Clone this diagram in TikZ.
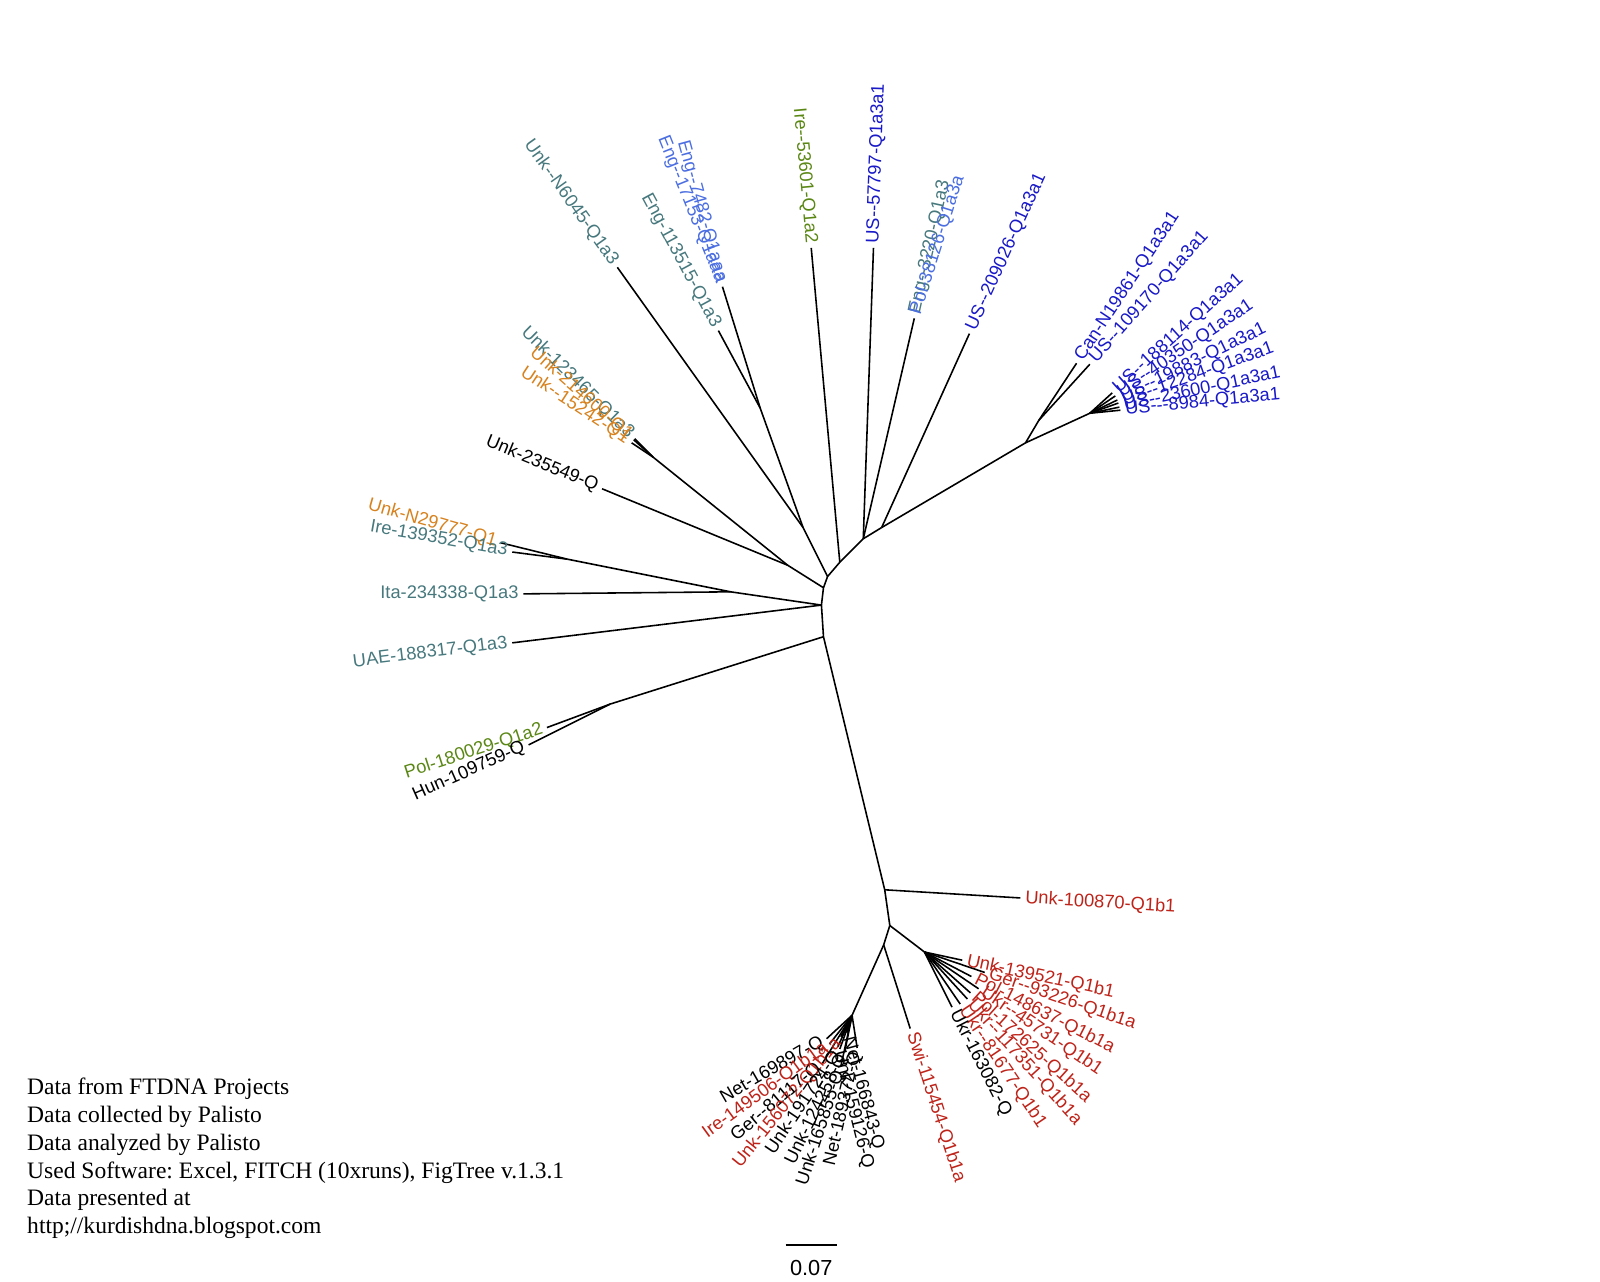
\documentclass[tikz,border=0pt]{standalone}
\usepackage{fontspec}
\setmainfont{Liberation Sans}
\newfontfamily\tipfont{Liberation Sans}
\newfontfamily\notefont{Liberation Serif}

\definecolor{qteal}{RGB}{70,120,125}
\definecolor{qorange}{RGB}{215,130,30}
\definecolor{qgreen}{RGB}{90,135,20}
\definecolor{qnavy}{RGB}{25,25,200}
\definecolor{qsky}{RGB}{75,110,225}
\definecolor{qred}{RGB}{190,35,25}

\begin{document}
\begin{tikzpicture}[%
      x=0.010204cm, y=-0.010204cm,
      branch/.style={%
        draw       = black,
        line width = 0.45pt,
      },
      tiplabel/.style={%
        font       = \tipfont\fontsize{5.2}{6}\selectfont,
        inner sep  = 1.2pt,
      },
      rlab/.style={tiplabel, anchor=west, rotate=#1},
      llab/.style={tiplabel, anchor=east, rotate=#1},
      ]

      \useasboundingbox (0,0) rectangle (1568,1256);

      % inner nodes of the tree
      \coordinate (S0) at (807,624);
      \coordinate (S1) at (805,593);
      \coordinate (S2) at (807,576);
      \coordinate (S3) at (811,565);
      \coordinate (A) at (823,551);
      \coordinate (B) at (846,528);
      \coordinate (C) at (864,517);
      \coordinate (D) at (1005,434);
      \coordinate (D2) at (1018,412);
      \coordinate (E) at (1068,405);
      \coordinate (F) at (787,517);
      \coordinate (EngN) at (745,400);
      \coordinate (G) at (772,554);
      \coordinate (N123) at (640,448);
      \coordinate (I) at (556,548);
      \coordinate (H) at (716,580);
      \coordinate (P) at (598,690);
      \coordinate (Q1) at (867,872);
      \coordinate (Q2) at (872,907);
      \coordinate (R) at (906,933);
      \coordinate (T) at (866,926);
      \coordinate (T2) at (835,995);

      \draw[branch] (C) -- (B) -- (A) -- (S3) -- (S2) -- (S1) -- (S0) -- (Q1) -- (Q2);
      \draw[branch] (C) -- (D) -- (D2);
      \draw[branch] (D) -- (E);
      \draw[branch] (S3) -- (F) -- (EngN);
      \draw[branch] (S2) -- (G) -- (N123);
      \draw[branch] (S1) -- (H) -- (I);
      \draw[branch] (S0) -- (P);
      \draw[branch] (Q2) -- (R);
      \draw[branch] (Q2) -- (T) -- (T2);

      % upper half
      \coordinate (tN6045) at (605,262);
      \coordinate (t113515) at (704,324);
      \coordinate (tEngA) at (708,281);
      \coordinate (t53601) at (795,243);
      \coordinate (t57797) at (856,243);
      \coordinate (t3220) at (896,312);
      \coordinate (t209026) at (950,327);
      \coordinate (tN19861) at (1055,356);
      \coordinate (t109170) at (1068,357);
      \coordinate (t188114) at (1090,385);
      \coordinate (t40350) at (1093,388);
      \coordinate (t19883) at (1095,392);
      \coordinate (t12284) at (1096,395);
      \coordinate (t23600) at (1097,399);
      \coordinate (t8984) at (1098,402);

      \draw[branch] (F) -- (tN6045);
      \draw[branch] (EngN) -- (t113515);
      \draw[branch] (EngN) -- (tEngA);
      \draw[branch] (A) -- (t53601);
      \draw[branch] (B) -- (t57797);
      \draw[branch] (B) -- (t3220);
      \draw[branch] (C) -- (t209026);
      \draw[branch] (D2) -- (tN19861);
      \draw[branch] (D2) -- (t109170);
      \draw[branch] (E) -- (t188114);
      \draw[branch] (E) -- (t40350);
      \draw[branch] (E) -- (t19883);
      \draw[branch] (E) -- (t12284);
      \draw[branch] (E) -- (t23600);
      \draw[branch] (E) -- (t8984);

      \node[llab=-54.5, text=qteal] (lN6045) at (tN6045) {Unk--N6045-Q1a3};
      \node[llab=-61.7, text=qteal] (l113515) at (t113515) {Eng-113515-Q1a3};
      \node[llab=-74.6, text=qsky] (l7482) at (tEngA) {Eng--7482-Q1aaa};
      \node[llab=-68.1, text=qsky] (l17153) at (tEngA) {Eng--17153-Q1aaa};
      \node[llab=-84.8, text=qgreen] (l53601) at (t53601) {Ire--53601-Q1a2};
      \node[rlab=88, text=qnavy] (l57797) at (t57797) {US--57797-Q1a3a1};
      \node[rlab=77.5, text=qteal] (l3220) at (t3220) {Eng--3220-Q1a3};
      \node[rlab=72.5, text=qsky] (l38126) at (t3220) {Pol-38126-Q1a3a};
      \node[rlab=65.6, text=qnavy] (l209026) at (t209026) {US--209026-Q1a3a1};
      \node[rlab=56.5, text=qnavy] (lN19861) at (tN19861) {Can-N19861-Q1a3a1};
      \node[rlab=48.5, text=qnavy] (l109170) at (t109170) {US--109170-Q1a3a1};
      \node[rlab=42, text=qnavy] (l188114) at (t188114) {US--188114-Q1a3a1};
      \node[rlab=34, text=qnavy] (l40350) at (t40350) {US--40350-Q1a3a1};
      \node[rlab=26, text=qnavy] (l19883) at (t19883) {US--19883-Q1a3a1};
      \node[rlab=19.6, text=qnavy] (l12284) at (t12284) {US--12284-Q1a3a1};
      \node[rlab=12, text=qnavy] (l23600) at (t23600) {US--23600-Q1a3a1};
      \node[rlab=5.5, text=qnavy] (l8984) at (t8984) {US---8984-Q1a3a1};

      % left side
      \coordinate (t123465) at (622,430);
      \coordinate (t214600) at (621,431);
      \coordinate (t15242) at (619,434);
      \coordinate (t235549) at (590,479);
      \coordinate (tN29777) at (491,532);
      \coordinate (t139352) at (502,541);
      \coordinate (t234338) at (513,582);
      \coordinate (t188317) at (502,630);
      \coordinate (t180029) at (536,713);
      \coordinate (t109759) at (518,730);

      \draw[branch] (N123) -- (t123465);
      \draw[branch] (N123) -- (t214600);
      \draw[branch] (N123) -- (t15242);
      \draw[branch] (G) -- (t235549);
      \draw[branch] (I) -- (tN29777);
      \draw[branch] (I) -- (t139352);
      \draw[branch] (H) -- (t234338);
      \draw[branch] (S1) -- (t188317);
      \draw[branch] (P) -- (t180029);
      \draw[branch] (P) -- (t109759);

      \node[llab=-44.5, text=qteal] (l123465) at (t123465) {Unk-123465-Q1a3};
      \node[llab=-41.3, text=qorange] (l214600) at (t214600) {Unk-214600-Q1};
      \node[llab=-33.3, text=qorange] (l15242) at (t15242) {Unk--15242-Q1};
      \node[llab=-22.4] (l235549) at (t235549) {Unk-235549-Q};
      \node[llab=-16, text=qorange] (lN29777) at (tN29777) {Unk-N29777-Q1};
      \node[llab=-10, text=qteal] (l139352) at (t139352) {Ire-139352-Q1a3};
      \node[llab=0, text=qteal] (l234338) at (t234338) {Ita-234338-Q1a3};
      \node[llab=7, text=qteal] (l188317) at (t188317) {UAE-188317-Q1a3};
      \node[llab=18, text=qgreen] (l180029) at (t180029) {Pol-180029-Q1a2};
      \node[llab=24] (l109759) at (t109759) {Hun-109759-Q};

      % lower half
      \coordinate (t100870) at (1000,880);
      \coordinate (t139521) at (943,941);
      \coordinate (t93226) at (965,953);
      \coordinate (t148637) at (952,957);
      \coordinate (t45731) at (959,969);
      \coordinate (t172625) at (951,973);
      \coordinate (t117351) at (948,979);
      \coordinate (t81677) at (941,984);
      \coordinate (t163082) at (933,987);
      \coordinate (t115454) at (892,1008);
      \coordinate (t169897) at (810,1018);
      \coordinate (t149506) at (813,1023);
      \coordinate (t81117) at (806,1042);
      \coordinate (t156072) at (824,1016);
      \coordinate (t191724) at (823,1028);
      \coordinate (t124258) at (828,1030);
      \coordinate (t165855) at (824,1045);
      \coordinate (t189372) at (840,1027);
      \coordinate (t159126) at (821,1026);
      \coordinate (t166843) at (830,1012);

      \draw[branch] (Q1) -- (t100870);
      \draw[branch] (R) -- (t139521);
      \draw[branch] (R) -- (t93226);
      \draw[branch] (R) -- (t148637);
      \draw[branch] (R) -- (t45731);
      \draw[branch] (R) -- (t172625);
      \draw[branch] (R) -- (t117351);
      \draw[branch] (R) -- (t81677);
      \draw[branch] (R) -- (t163082);
      \draw[branch] (T) -- (t115454);
      \draw[branch] (T2) -- (t169897);
      \draw[branch] (T2) -- (t149506);
      \draw[branch] (T2) -- (t81117);
      \draw[branch] (T2) -- (t156072);
      \draw[branch] (T2) -- (t191724);
      \draw[branch] (T2) -- (t124258);
      \draw[branch] (T2) -- (t165855);
      \draw[branch] (T2) -- (t189372);
      \draw[branch] (T2) -- (t159126);
      \draw[branch] (T2) -- (t166843);

      \node[rlab=-3.5, text=qred] (l100870) at (t100870) {Unk-100870-Q1b1};
      \node[rlab=-12, text=qred] (l139521) at (t139521) {Unk-139521-Q1b1};
      \node[rlab=-19, text=qred] (l93226) at (t93226) {Ger--93226-Q1b1a};
      \node[rlab=-27, text=qred] (l148637) at (t148637) {Pol-148637-Q1b1a};
      \node[rlab=-34, text=qred] (l45731) at (t45731) {Ukr--45731-Q1b1};
      \node[rlab=-42, text=qred] (l172625) at (t172625) {Pol-172625-Q1b1a};
      \node[rlab=-48, text=qred] (l117351) at (t117351) {Ukr--117351-Q1b1a};
      \node[rlab=-56, text=qred] (l81677) at (t81677) {Ukr--81677-Q1b1};
      \node[rlab=-63] (l163082) at (t163082) {Ukr-163082-Q};
      \node[rlab=-72, text=qred] (l115454) at (t115454) {Swi-115454-Q1b1a};
      \node[llab=30] (l169897) at (t169897) {Net-169897-Q};
      \node[llab=36, text=qred] (l149506) at (t149506) {Ire-149506-Q1b1a};
      \node[llab=40] (l81117) at (t81117) {Ger--81117-Q};
      \node[llab=51, text=qred] (l156072) at (t156072) {Unk-156072-Q1b1a};
      \node[llab=56] (l191724) at (t191724) {Unk-191724-Q};
      \node[llab=64] (l124258) at (t124258) {Unk-124258-Q};
      \node[llab=72] (l165855) at (t165855) {Unk-165855-Q};
      \node[llab=77] (l189372) at (t189372) {Net-189372-Q};
      \node[rlab=-76] (l159126) at (t159126) {Unk-159126-Q};
      \node[rlab=-75] (l166843) at (t166843) {Net-166843-Q};

      % scale bar
      \coordinate (sbL) at (770,1220);
      \coordinate (sbR) at (820,1220);
      \draw[branch] (sbL) -- (sbR);
      \node[font=\tipfont\fontsize{6.2}{7}\selectfont, inner sep=0pt] (sbtxt) at (795,1243) {0.07};

      % notes
      \node[anchor=north west, inner sep=0pt, align=left,
            font=\notefont\frenchspacing\fontsize{6.7}{7.9}\selectfont] (notes) at (26,1056)
        {Data from FTDNA Projects\\
         Data collected by Palisto\\
         Data analyzed by Palisto\\
         Used Software: Excel, FITCH (10xruns), FigTree v.1.3.1\\
         Data presented at\\
         http;//kurdishdna.blogspot.com};

    \end{tikzpicture}
\end{document}
